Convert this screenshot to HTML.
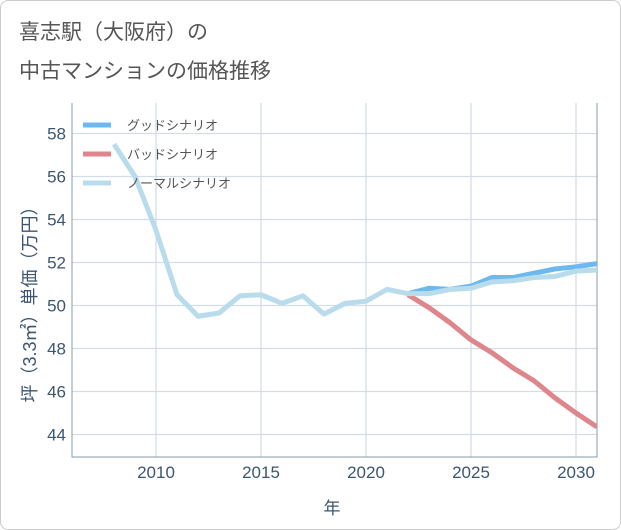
<!DOCTYPE html>
<html><head><meta charset="utf-8">
<style>
body{margin:0;background:#fff;font-family:"Liberation Sans","Noto Sans CJK JP",sans-serif;}
#wrap{position:relative;width:619px;height:528px;border:1px solid #ccc;border-radius:8px;overflow:hidden;background:#fff}
.title{position:absolute;left:18px;font-size:21px;color:#555;}
</style></head><body>
<div id="wrap">
<div class="title" style="top:15px">喜志駅（大阪府）の</div>
<div class="title" style="top:54px">中古マンションの価格推移</div>
<svg id="chart" width="621" height="530" style="position:absolute;left:-1px;top:-1px"></svg>
</div>
<script>
const years=[2008,2009,2010,2011,2012,2013,2014,2015,2016,2017,2018,2019,2020,2021,2022,2023,2024,2025,2026,2027,2028,2029,2030,2031];
const normal=[57.5,56,53.5,50.5,49.5,49.65,50.45,50.5,50.1,50.45,49.6,50.1,50.2,50.75,50.55,50.55,50.75,50.8,51.1,51.15,51.3,51.35,51.6,51.65];
const goodYears=[2022,2023,2024,2025,2026,2027,2028,2029,2030,2031];
const good=[50.55,50.8,50.75,50.9,51.3,51.3,51.5,51.7,51.8,51.95];
const badYears=[2022,2023,2024,2025,2026,2027,2028,2029,2030,2031];
const bad=[50.5,49.9,49.2,48.4,47.8,47.1,46.5,45.7,45.0,44.35];
const xTicks=[2010,2015,2020,2025,2030];
const yTicks=[44,46,48,50,52,54,56,58];
const L=72,R=597,T=103,B=457;
const x=v=>156+(v-2010)*21;
const y=v=>305.5-(v-50)*21.5;
const svg=document.getElementById('chart');
const NS='http://www.w3.org/2000/svg';
function mk(t,a,p){const e=document.createElementNS(NS,t);for(const k in a)e.setAttribute(k,a[k]);(p||svg).appendChild(e);return e;}
for(const t of xTicks){
 const g=mk('line',{x1:x(t),x2:x(t),y1:T,y2:B,stroke:'#d3dde8','stroke-width':1.3});
 
 
 const tx=mk('text',{x:x(t),y:478,'text-anchor':'middle','font-size':17,fill:'#3d5570'});tx.textContent=t;
 
 
}
for(const t of yTicks){
 const g=mk('line',{x1:L,x2:R,y1:y(t),y2:y(t),stroke:'#d3dde8','stroke-width':1.3});
 
 
 const tx=mk('text',{x:66,y:y(t)+6,'text-anchor':'end','font-size':17,fill:'#3d5570'});tx.textContent=t;
 
 
}
const ax=mk('path',{d:`M${L},${T}V${B}H${R}V${T}`,fill:'none',stroke:'#8a99a8','stroke-width':1});


const clip=mk('clipPath',{id:'c'});mk('rect',{x:L,y:T,width:R-L,height:B-T},clip);
function line(xs,vs,col,name){
 const p=mk('polyline',{points:xs.map((v,i)=>x(v)+','+y(vs[i])).join(' '),fill:'none',stroke:col,'stroke-width':5,'stroke-linejoin':'round','clip-path':'url(#c)'});
 
 
}
line(goodYears,good,'#6cb8f0','good-scenario-line');
line(badYears,bad,'#de868c','bad-scenario-line');
line(years,normal,'#b8dcec','normal-scenario-line');
const leg=[['グッドシナリオ','#6cb8f0',125],['バッドシナリオ','#de868c',154],['ノーマルシナリオ','#b8dcec',183]];
for(const [lab,c,yy] of leg){
 const g=mk('g',{});
 
 
 mk('line',{x1:83,x2:111,y1:yy,y2:yy,stroke:c,'stroke-width':5},g);
 const t=mk('text',{x:127,y:yy+5,'font-size':13,fill:'#555'},g);t.textContent=lab;
}
const yl=mk('text',{transform:'translate(36,300) rotate(-90)','text-anchor':'middle','font-size':18,fill:'#3d5570'});yl.textContent='坪（3.3㎡）単価（万円）';


const xl=mk('text',{x:332,y:514,'text-anchor':'middle','font-size':17,fill:'#3d5570'});xl.textContent='年';


</script>
</body></html>
